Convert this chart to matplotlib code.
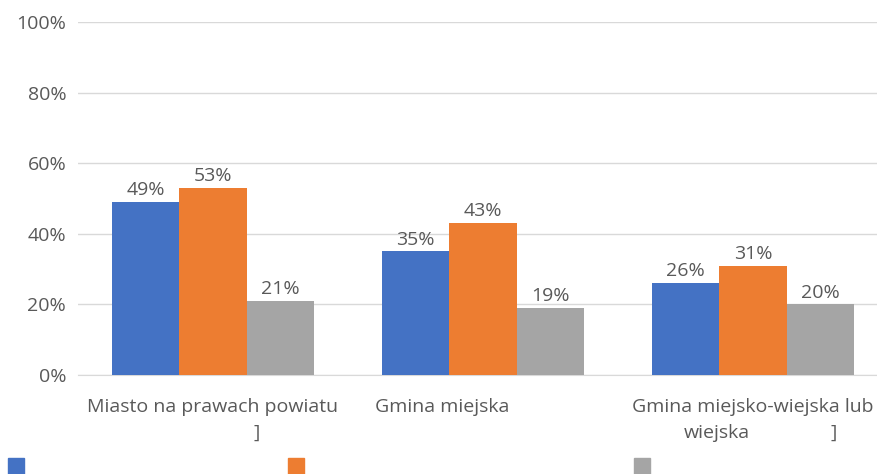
import matplotlib.pyplot as plt
from matplotlib.patches import Rectangle
from matplotlib.ticker import PercentFormatter
import matplotlib.transforms as mtransforms

plt.rcParams['font.family'] = ['Open Sans', 'DejaVu Sans']

categories = ["Miasto na prawach powiatu", "Gmina miejska", "Gmina miejsko-wiejska lub wiejska"]
series_a = [0.49, 0.35, 0.26]
series_b = [0.53, 0.43, 0.31]
series_c = [0.21, 0.19, 0.20]
colors = ["#4472C4", "#ED7D31", "#A5A5A5"]
yticks = [0, 0.2, 0.4, 0.6, 0.8, 1.0]

fig = plt.figure(figsize=(8.78, 4.74), dpi=100)
ax = fig.add_axes([0.0888, 0.2089, 0.9226, 0.7447])

width = 0.25
x = list(range(len(categories)))
text_color = "#595959"
for i, (vals, col) in enumerate(zip([series_a, series_b, series_c], colors)):
    pos = [xi + (i - 1) * width for xi in x]
    bars = ax.bar(pos, vals, width=width, color=col, zorder=3)
    for b, v in zip(bars, vals):
        ax.text(b.get_x() + b.get_width() / 2, v + 0.008, f"{round(v * 100)}%",
                ha="center", va="bottom", fontsize=14, color=text_color)

ax.set_xlim(-0.5, 2.5)
ax.set_ylim(0, 1.0)
ax.set_yticks(yticks)
ax.yaxis.set_major_formatter(PercentFormatter(1.0, decimals=0))
ax.tick_params(axis="y", length=0, pad=8.5, labelsize=14, labelcolor=text_color)
ax.tick_params(axis="x", length=0, labelbottom=False)
ax.grid(axis="y", color="#D9D9D9", linewidth=1, zorder=0)
for s in ["top", "right", "left"]:
    ax.spines[s].set_visible(False)
ax.spines["bottom"].set_color("#D9D9D9")

# category labels, laid out below the axis
trans = mtransforms.blended_transform_factory(ax.transData, ax.transAxes)
label_kw = dict(ha="center", va="baseline", fontsize=14, color=text_color, transform=trans)
line1, line2 = -0.105, -0.178
ax.text(0.0, line1, "Miasto na prawach powiatu", **label_kw)
ax.text(0.163, line2, "]", **label_kw)
ax.text(0.848, line1, "Gmina miejska", **label_kw)
ax.text(2.0, line1, "Gmina miejsko-wiejska lub", **label_kw)
ax.text(1.867, line2, "wiejska", **label_kw)
ax.text(2.3, line2, "]", **label_kw)

# legend swatches
for fx, col in zip([8, 288, 634], colors):
    fig.add_artist(Rectangle((fx / 878, 0), 16 / 878, 16 / 474,
                             transform=fig.transFigure, color=col))

fig.savefig("out.png", dpi=100)
